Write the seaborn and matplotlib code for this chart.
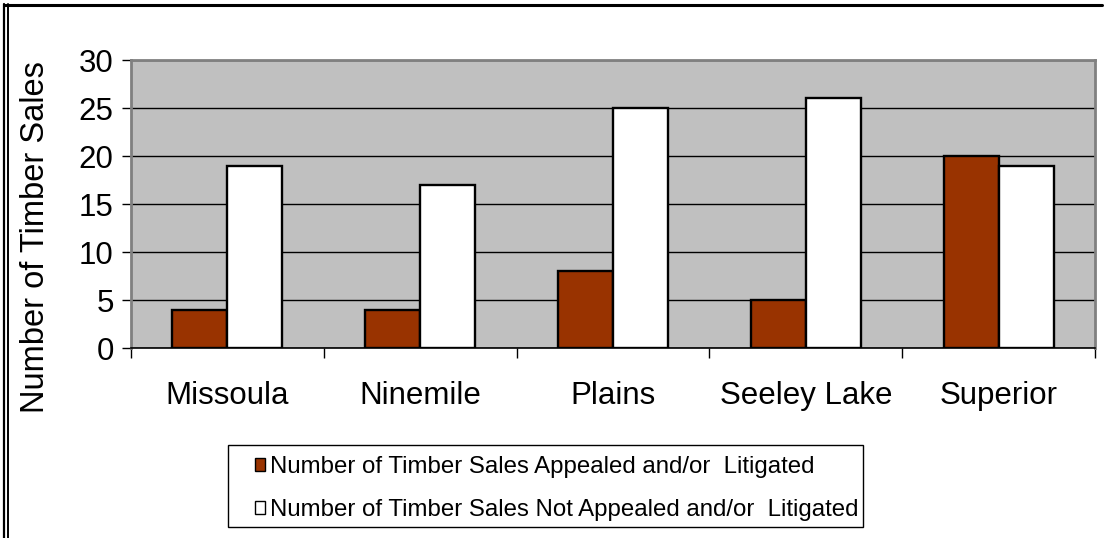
import pandas as pd
import numpy as np
import seaborn as sns
import matplotlib.pyplot as plt
from matplotlib.lines import Line2D
from matplotlib.patches import Patch, Rectangle

districts = ['Missoula', 'Ninemile', 'Plains', 'Seeley Lake', 'Superior']
appealed = [4, 4, 8, 5, 20]
not_appealed = [19, 17, 25, 26, 19]
series = ['Number of Timber Sales Appealed and/or  Litigated',
          'Number of Timber Sales Not Appealed and/or  Litigated']
colors = ['#993300', '#FFFFFF']

df = pd.DataFrame({'district': districts * 2,
                   'count': appealed + not_appealed,
                   'series': [series[0]] * 5 + [series[1]] * 5})

sns.set_style('white')
plt.rcParams['font.family'] = ['Liberation Sans', 'DejaVu Sans']
plt.rcParams['text.color'] = 'black'
plt.rcParams['axes.labelcolor'] = 'black'
plt.rcParams['xtick.color'] = 'black'
plt.rcParams['ytick.color'] = 'black'

W, H = 1107, 538
fig = plt.figure(figsize=(W / 100, H / 100), dpi=100)
ax = fig.add_axes([131 / W, 1 - 348 / H, 964 / W, 288 / H])
ax.set_facecolor('#C0C0C0')

sns.barplot(data=df, x='district', y='count', hue='series', palette=colors,
            width=0.57, gap=0, edgecolor='black', linewidth=1.7,
            saturation=1, legend=False, ax=ax, zorder=3)

ax.set_ylim(0, 30)
ax.set_xlim(-0.5, 4.5)
ax.set_yticks(range(0, 31, 5))
ax.yaxis.grid(True, color='black', linewidth=1.0, zorder=1)
ax.set_axisbelow(True)

ax.set_xlabel('')
ax.set_ylabel('Number of Timber Sales', fontsize=23.5)
ax.yaxis.set_label_coords((51 - 131) / 964, (348 - 237) / 288)
ax.tick_params(axis='y', labelsize=22.5, length=6.5, width=1,
               pad=6, left=True, direction='out')
ax.tick_params(axis='x', which='major', labelsize=22.5, length=0, pad=24)
ax.set_xticks(np.arange(-0.5, 5, 1), minor=True)
ax.tick_params(axis='x', which='minor', length=7, width=1,
               bottom=True, direction='out')

for side in ['top', 'right', 'left']:
    ax.spines[side].set_color('#808080')
    ax.spines[side].set_linewidth(2)
ax.spines['bottom'].set_color('black')
ax.spines['bottom'].set_linewidth(1.2)

# legend, with its box drawn separately
handles = [Patch(facecolor=c, edgecolor='black', linewidth=1) for c in colors]
fig.legend(handles, series, loc='upper left', bbox_to_anchor=(255 / W, 1 - 456 / H),
           fontsize=17.3, frameon=False, borderaxespad=0, borderpad=0,
           handlelength=0.42, handleheight=0.42, handletextpad=0.2,
           labelspacing=0.88)
fig.add_artist(Rectangle((228 / W, 1 - 527 / H), (863 - 228) / W, (527 - 445) / H,
                         transform=fig.transFigure, fill=False,
                         edgecolor='black', linewidth=1))

# outer frame
fig.add_artist(Line2D([4 / W, 4 / W], [0, 1 - 4 / H], color='black', lw=1.6))
fig.add_artist(Line2D([7.5 / W, 7.5 / W], [0, 1 - 4 / H], color='black', lw=1.4))
fig.add_artist(Line2D([4 / W, 1102 / W], [1 - 5 / H, 1 - 5 / H], color='black', lw=2.2))

fig.savefig('out.png', dpi=100)
